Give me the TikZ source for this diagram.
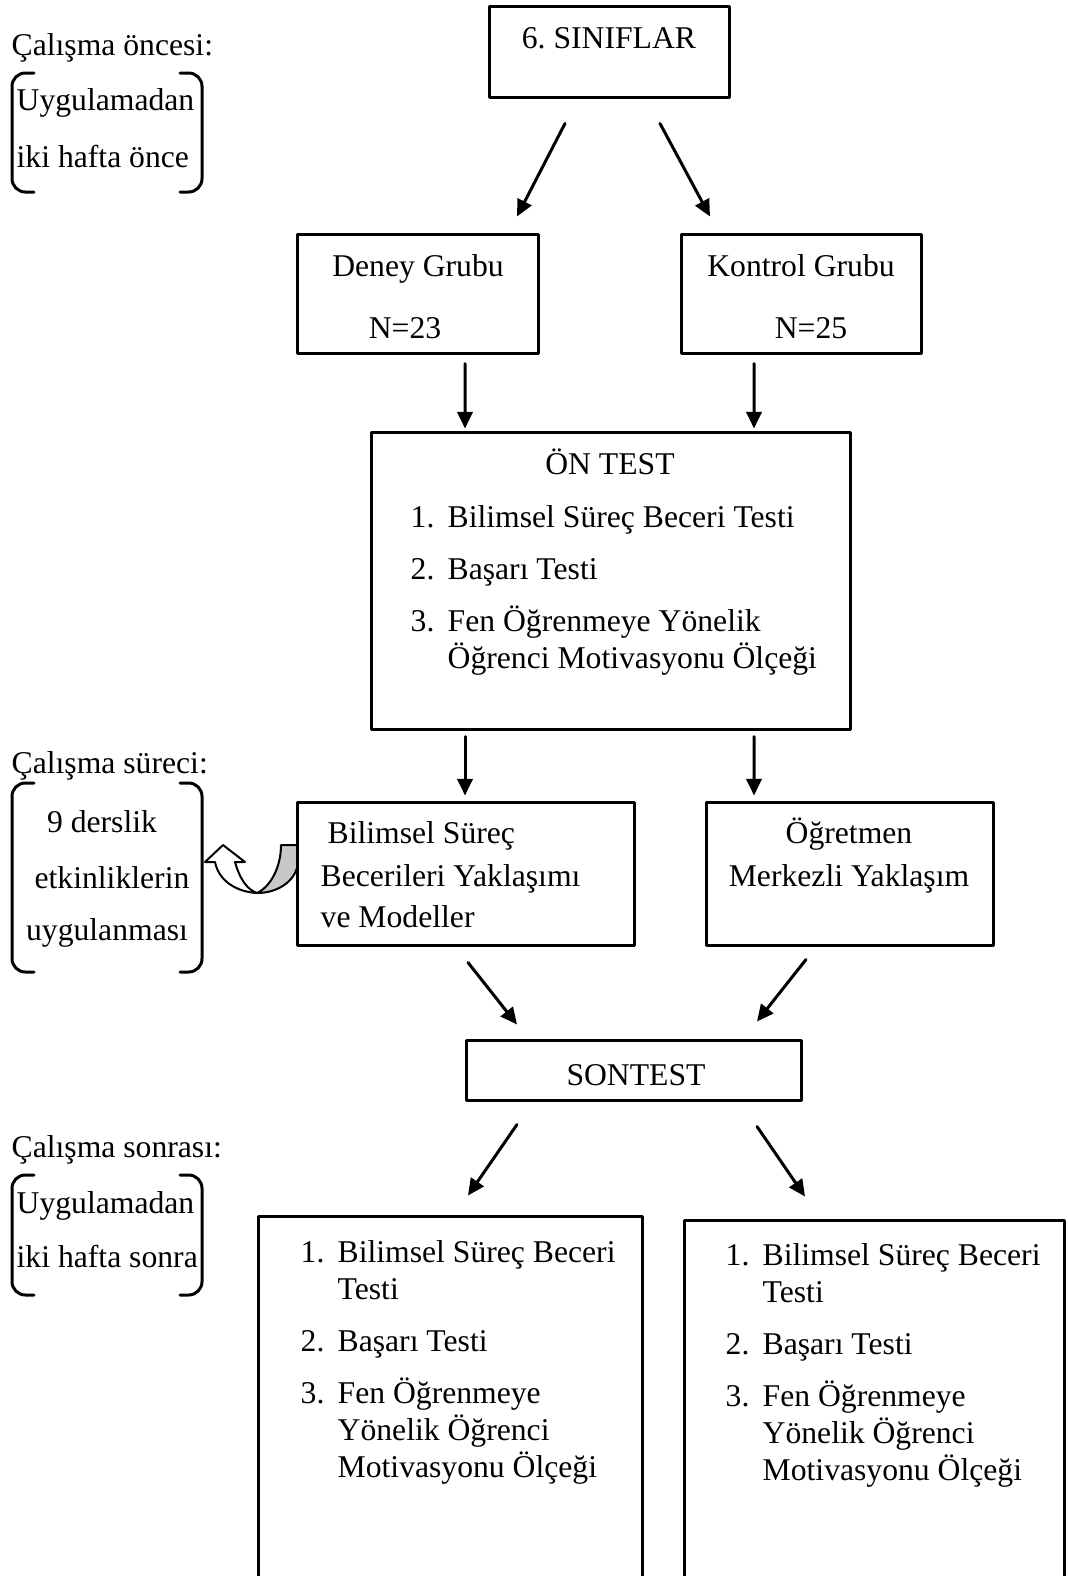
\documentclass[tikz,border=0pt]{standalone}
\usepackage{fontspec}
\setmainfont{Liberation Serif}
\usetikzlibrary{arrows.meta,calc}
\definecolor{gri}{RGB}{200,200,200}
\frenchspacing
\tikzset{
	kutu/.style 2 args={draw, line width=0.9pt, minimum width=#1*0.3pt, minimum height=#2*0.3pt, inner sep=0pt},
	ok/.style={line width=0.9pt, -{Triangle[length=5pt,width=4.6pt]}},
	yazi/.style={inner sep=0pt, anchor=base},
	sol/.style={inner sep=0pt, anchor=base west},
	parantez/.style={line width=0.9pt, rounded corners=4pt},
}
\newcommand{\liste}[1]{\begin{tabular}[t]{@{}p{11.1pt}@{}l@{}}#1\end{tabular}}
\begin{document}
\begin{tikzpicture}[x=0.3pt, y=-0.3pt, font=\fontsize{9.5}{11.1}\selectfont, line cap=round, line join=round]
	\useasboundingbox (0,0) rectangle (1067,1576);
	% kutular
	\node[kutu={240}{91}] (sinif) at (609,51.5) {};
	\node[kutu={241}{119}] (deney) at (417.5,293.5) {};
	\node[kutu={240}{119}] (kontrol) at (801,293.5) {};
	\node[kutu={479}{297}] (ontest) at (610.5,580.5) {};
	\node[kutu={337}{143}] (bsb) at (465.5,873.5) {};
	\node[kutu={287}{143}] (ogretmen) at (849.5,873.5) {};
	\node[kutu={335}{60}] (sontest) at (633.5,1070) {};
	\node[kutu={384}{374}] (son1) at (450,1403) {};
	\node[kutu={380}{370}] (son2) at (874,1405) {};
	% yazilar
	\node[yazi] (t1) at (609,48) {6. SINIFLAR};
	\node[yazi] (t2) at (418,276) {Deney Grubu};
	\node[yazi] (t3) at (405,338) {N=23};
	\node[yazi] (t4) at (801,276) {Kontrol Grubu};
	\node[yazi] (t5) at (811,338) {N=25};
	\node[yazi] (t6) at (610,474) {ÖN TEST};
	\node[sol] (l1) at (410,527) {\liste{1.&Bilimsel Süreç Beceri Testi\\[4.6pt] 2.&Başarı Testi\\[4.6pt] 3.&Fen Öğrenmeye Yönelik\\ &Öğrenci Motivasyonu Ölçeği}};
	\node[sol] (t7) at (327,843) {Bilimsel Süreç};
	\node[sol] (t8) at (320,886) {Becerileri Yaklaşımı};
	\node[sol] (t9) at (320,927) {ve Modeller};
	\node[yazi] (t10) at (849,843) {Öğretmen};
	\node[yazi] (t11) at (849,886) {Merkezli Yaklaşım};
	\node[yazi] (t12) at (636,1085) {SONTEST};
	\node[sol] (l2) at (300,1262) {\liste{1.&Bilimsel Süreç Beceri\\ &Testi\\[4.6pt] 2.&Başarı Testi\\[4.6pt] 3.&Fen Öğrenmeye\\ &Yönelik Öğrenci\\ &Motivasyonu Ölçeği}};
	\node[sol] (l3) at (725,1265) {\liste{1.&Bilimsel Süreç Beceri\\ &Testi\\[4.6pt] 2.&Başarı Testi\\[4.6pt] 3.&Fen Öğrenmeye\\ &Yönelik Öğrenci\\ &Motivasyonu Ölçeği}};
	% sol taraf
	\node[sol] (s1) at (11,55) {Çalışma öncesi:};
	\node[sol] (s2) at (16,110) {Uygulamadan};
	\node[sol] (s3) at (16,167) {iki hafta önce};
	\node[sol] (s4) at (11,773) {Çalışma süreci:};
	\node[yazi] (s5) at (102,832) {9 derslik};
	\node[yazi] (s6) at (112,888) {etkinliklerin};
	\node[yazi] (s7) at (107,940) {uygulanması};
	\node[sol] (s8) at (11,1157) {Çalışma sonrası:};
	\node[sol] (s9) at (16,1213) {Uygulamadan};
	\node[sol] (s10) at (16,1267) {iki hafta sonra};
	\draw[parantez] (34,73)--(12,73)--(12,192)--(34,192) (180,73)--(202,73)--(202,192)--(180,192);
	\draw[parantez] (34,783)--(12,783)--(12,972)--(34,972) (180,783)--(202,783)--(202,972)--(180,972);
	\draw[parantez] (34,1175)--(12,1175)--(12,1295)--(34,1295) (180,1175)--(202,1175)--(202,1295)--(180,1295);
	% kivrik ok
	\draw[line width=0.6pt, fill=gri] (281,845)--(297,845)--(297,868) .. controls (292,884) and (275,893) .. (257,893) .. controls (270,887) and (281,868) .. (281,845)--cycle;
	\draw[line width=0.6pt, fill=white] (223,845)--(245,862)--(235,862) .. controls (240,880) and (248,890) .. (257,893) .. controls (238,892) and (219,882) .. (215,862)--(205,862)--cycle;
	% oklar
	\draw[ok] ($(sinif.south)+(-44,25)$)--($(deney.north)+(99.5,-16)$);
	\draw[ok] ($(sinif.south)+(51,25)$)--($(kontrol.north)+(-91,-16)$);
	\draw[ok] ($(deney.south)+(47.5,9)$)--($(ontest.north)+(-145.5,-2)$);
	\draw[ok] ($(kontrol.south)+(-47,9)$)--($(ontest.north)+(143.5,-2)$);
	\draw[ok] ($(ontest.south)+(-145.5,6)$)--($(bsb.north)+(-0.5,-5)$);
	\draw[ok] ($(ontest.south)+(143.5,6)$)--($(ogretmen.north)+(-95.5,-5)$);
	\draw[ok] ($(bsb.south)+(2.5,16)$)--($(sontest.north)+(-116.5,-14)$);
	\draw[ok] ($(ogretmen.south)+(-43.5,13)$)--($(sontest.north)+(123.5,-17)$);
	\draw[ok] ($(sontest.south)+(-116.5,23)$)--($(son1.north)+(18,-19)$);
	\draw[ok] ($(sontest.south)+(123.5,25)$)--($(son2.north)+(-69,-22)$);
\end{tikzpicture}
\end{document}
